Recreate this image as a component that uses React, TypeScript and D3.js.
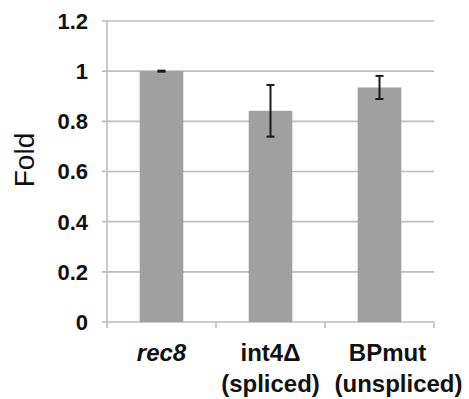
import * as d3 from "d3";
import { useEffect, useRef } from "react";

const categories = ["rec8", "int4Δ", "BPmut"];
const subLabels = ["", "(spliced)", "(unspliced)"];
const values = [1.0, 0.842, 0.935];
const errors = [0.002, 0.103, 0.046];
const yTicks = [0, 0.2, 0.4, 0.6, 0.8, 1, 1.2];
const yTickLabels = ["0", "0.2", "0.4", "0.6", "0.8", "1", "1.2"];

export default function App() {
  const ref = useRef<SVGSVGElement>(null);

  useEffect(() => {
    const svg = d3.select(ref.current);
    svg.selectAll("*").remove();
    const font = "'Liberation Sans', Arial, sans-serif";

    const left = 107, right = 434, top = 21, bottom = 322;
    const x = d3.scaleBand().domain(categories).range([left, right]).paddingInner(0.6).paddingOuter(0.3);
    const y = d3.scaleLinear().domain([0, 1.2]).range([bottom, top]);

    // gridlines
    svg.append("g").selectAll("line").data(yTicks.filter(d => d > 0)).enter().append("line")
      .attr("x1", left - 5).attr("x2", right)
      .attr("y1", d => y(d)).attr("y2", d => y(d))
      .attr("stroke", "#bdbdbd").attr("stroke-width", 1.6);

    // y axis line + bottom axis
    svg.append("line").attr("x1", left).attr("x2", left).attr("y1", top).attr("y2", bottom)
      .attr("stroke", "#bdbdbd").attr("stroke-width", 1.6);
    svg.append("line").attr("x1", left - 5).attr("x2", right).attr("y1", bottom).attr("y2", bottom)
      .attr("stroke", "#bdbdbd").attr("stroke-width", 1.6);
    const step = x.step();
    svg.append("g").selectAll("line").data(d3.range(categories.length + 1)).enter().append("line")
      .attr("x1", i => left + i * step).attr("x2", i => left + i * step)
      .attr("y1", bottom).attr("y2", bottom + 6)
      .attr("stroke", "#bdbdbd").attr("stroke-width", 1.6);

    // y tick labels
    svg.append("g").selectAll("text").data(yTicks).enter().append("text")
      .attr("x", 88).attr("y", d => y(d)).attr("dy", "0.36em")
      .attr("text-anchor", "end")
      .attr("font-family", font).attr("font-weight", "bold").attr("font-size", 22)
      .attr("fill", "#111")
      .text((d, i) => yTickLabels[i]);

    // bars
    svg.append("g").selectAll("rect").data(values).enter().append("rect")
      .attr("x", (d, i) => x(categories[i])!)
      .attr("y", d => y(d))
      .attr("width", x.bandwidth())
      .attr("height", d => bottom - y(d))
      .attr("fill", "#a0a0a0");

    // error bars
    const eb = svg.append("g").attr("stroke", "#1a1a1a").attr("stroke-width", 2);
    values.forEach((v, i) => {
      const cx = x(categories[i])! + x.bandwidth() / 2;
      const hi = y(v + errors[i]), lo = y(v - errors[i]);
      eb.append("line").attr("x1", cx).attr("x2", cx).attr("y1", hi).attr("y2", lo);
      eb.append("line").attr("x1", cx - 4).attr("x2", cx + 4).attr("y1", hi).attr("y2", hi);
      eb.append("line").attr("x1", cx - 4).attr("x2", cx + 4).attr("y1", lo).attr("y2", lo);
    });

    // category labels
    const shift1 = [0, 0, 8];
    const shift2 = [0, 0, 19];
    categories.forEach((c, i) => {
      const cx = x(c)! + x.bandwidth() / 2;
      svg.append("text")
        .attr("x", cx + shift1[i]).attr("y", 361)
        .attr("text-anchor", "middle")
        .attr("font-family", font).attr("font-weight", "bold").attr("font-size", 24)
        .attr("font-style", i === 0 ? "italic" : "normal")
        .attr("fill", "#111")
        .text(c);
      if (subLabels[i]) {
        svg.append("text")
          .attr("x", cx + shift2[i]).attr("y", 392)
          .attr("text-anchor", "middle")
          .attr("font-family", font).attr("font-weight", "bold").attr("font-size", 24)
          .attr("fill", "#111")
          .text(subLabels[i]);
      }
    });

    // y axis title
    svg.append("text")
      .attr("transform", "translate(34,160) rotate(-90)")
      .attr("text-anchor", "middle")
      .attr("font-family", font).attr("font-size", 28)
      .attr("fill", "#111")
      .text("Fold");
  }, []);

  return (
    <svg ref={ref} width={469} height={399}
      style={{ position: "absolute", left: 0, top: 0, background: "#fff" }} />
  );
}
